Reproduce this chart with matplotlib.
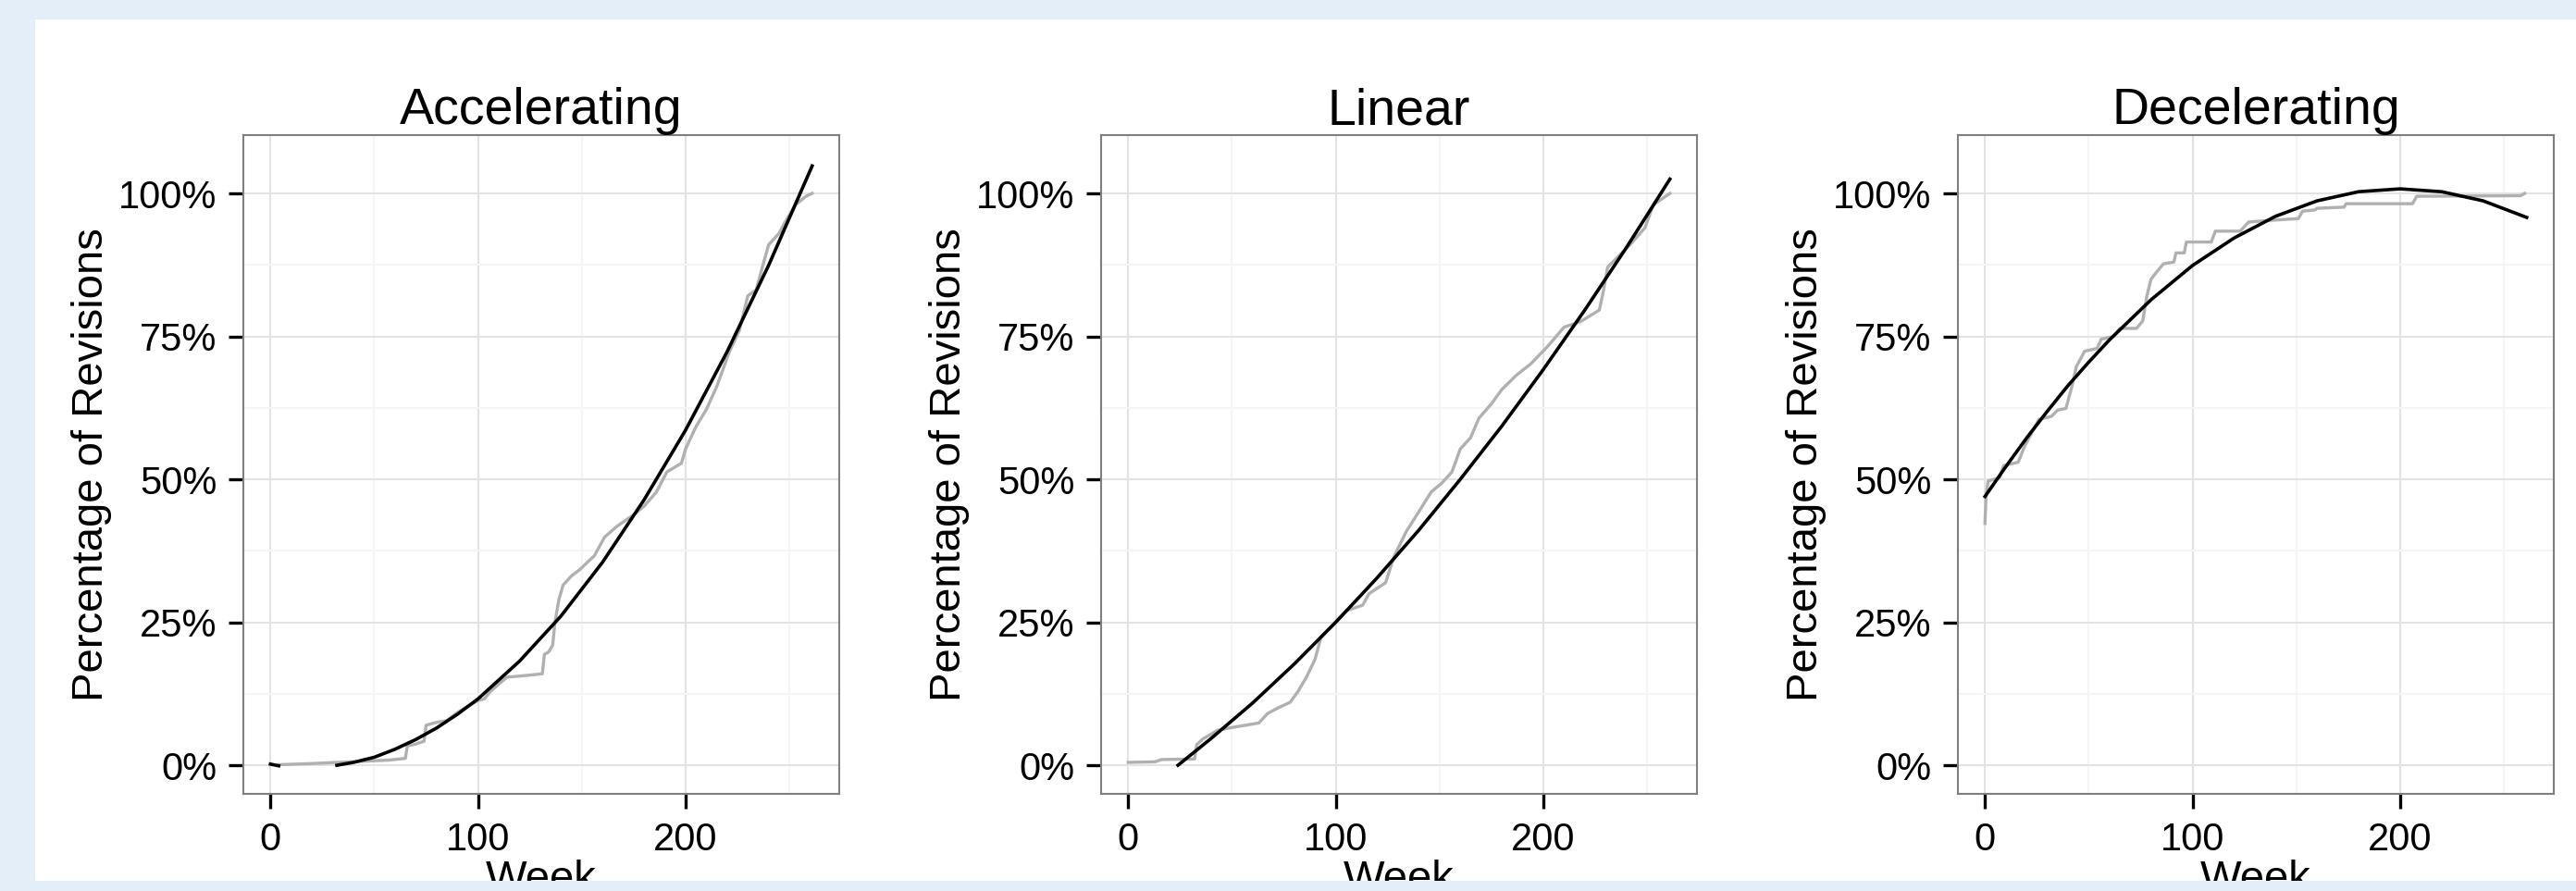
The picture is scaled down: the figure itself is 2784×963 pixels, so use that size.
"""Cumulative revision curves by project shape, with quadratic trend lines."""

import matplotlib

matplotlib.use("Agg")

import matplotlib.pyplot as plt
from matplotlib.patches import Rectangle
from matplotlib.ticker import FixedLocator, PercentFormatter

plt.rcParams["font.family"] = ["Liberation Sans", "DejaVu Sans"]

TITLES = ["Accelerating", "Linear", "Decelerating"]
X_TICKS = [0, 100, 200]
Y_TICKS = [0, 25, 50, 75, 100]

# observed cumulative share of revisions (grey step lines), percent
acc_weeks = [4, 20, 32, 45, 57, 65, 66, 70, 74, 75, 80, 85, 90, 95, 100, 103, 106, 111,
             114, 120, 126, 131, 132, 134, 136, 137, 139, 141, 145, 149, 153, 156, 161,
             167, 175, 180, 186, 191, 198, 200, 205, 210, 215, 221, 226, 230, 234, 240,
             245, 248, 253, 258, 261]
acc_pct = [0.1, 0.3, 0.5, 0.7, 0.9, 1.2, 3.4, 3.7, 4.2, 7.0, 7.5, 7.8, 9.2, 10.3, 11.3,
           11.6, 12.9, 14.5, 15.4, 15.6, 15.8, 16.0, 19.4, 19.8, 21.0, 24.8, 29.0, 31.5,
           33.1, 34.2, 35.6, 36.6, 39.9, 41.8, 43.8, 45.3, 47.8, 51.3, 52.8, 55.3, 59.2,
           62.2, 66.2, 72.2, 76.1, 82.1, 83.1, 91.0, 93.0, 95.0, 98.0, 99.5, 100.0]

lin_weeks = [0, 13, 16, 32, 33, 36, 43, 50, 63, 67, 72, 78, 82, 86, 90, 93, 97, 105, 113,
             116, 124, 128, 134, 140, 146, 151, 156, 160, 165, 169, 175, 180, 187, 194,
             202, 210, 218, 227, 229, 231, 242, 249, 253, 261]
lin_pct = [0.5, 0.6, 1.0, 1.1, 3.6, 4.6, 6.1, 6.6, 7.4, 9.0, 10.0, 11.0, 13.0, 15.5, 18.5,
           22.5, 24.0, 27.0, 28.0, 30.0, 31.9, 36.4, 40.9, 44.3, 47.8, 49.3, 51.3, 55.3,
           57.3, 60.7, 63.2, 65.7, 68.2, 70.2, 73.2, 76.6, 77.6, 79.6, 83.0, 87.1, 91.1,
           94.0, 98.0, 100.0]

dec_weeks = [0, 0.5, 1.5, 7, 9, 16, 19, 22, 26, 32, 35, 39, 42, 44, 48, 54, 56, 62, 65, 73,
             76, 78, 80, 83, 86, 91, 92, 96, 97, 109, 111, 123, 127, 138, 151, 153, 159,
             160, 173, 174, 206, 208, 258, 260]
dec_pct = [42.3, 47.0, 49.7, 50.3, 52.4, 53.0, 55.7, 57.8, 60.5, 61.0, 62.1, 62.4, 66.4,
           69.7, 72.4, 72.9, 74.5, 75.0, 76.4, 76.4, 77.7, 82.1, 85.0, 86.4, 87.7, 88.0,
           89.6, 89.6, 91.5, 91.5, 93.4, 93.4, 95.0, 95.3, 95.6, 96.9, 97.1, 97.4, 97.6,
           98.2, 98.2, 99.5, 99.6, 100.0]

# quadratic trend lines (black)
acc_fit_weeks = [32, 40, 50, 60, 70, 80, 90, 100, 120, 140, 160, 180, 200, 220, 240, 261]
acc_fit_pct = [0.0, 0.5, 1.4, 2.8, 4.5, 6.5, 8.9, 11.6, 18.2, 26.1, 35.5, 46.4, 58.6, 72.3,
               87.4, 104.8]
acc_fit_head_weeks = [0, 4]
acc_fit_head_pct = [0.2, -0.1]

lin_fit_weeks = [24, 40, 60, 80, 100, 120, 140, 160, 180, 200, 220, 240, 261]
lin_fit_pct = [0.0, 4.7, 10.9, 17.7, 25.0, 32.8, 41.1, 50.0, 59.3, 69.2, 79.6, 90.5, 102.5]

dec_fit_weeks = [0, 10, 20, 30, 40, 50, 60, 80, 100, 120, 140, 160, 180, 200, 220, 240,
                 261]
dec_fit_pct = [47.0, 52.2, 57.2, 61.9, 66.4, 70.5, 74.4, 81.4, 87.4, 92.2, 96.0, 98.7,
               100.3, 100.8, 100.3, 98.7, 95.8]

BORDER = "#e4eef8"
GREY_LINE = "#b0b0b0"


def style_panel(ax, title):
    ax.set_xlim(-13.05, 274.05)
    ax.set_ylim(-5.0, 110.2)
    ax.set_facecolor("white")
    for spine in ax.spines.values():
        spine.set_color("#7f7f7f")
        spine.set_linewidth(1.5)
    ax.xaxis.set_major_locator(FixedLocator(X_TICKS))
    ax.xaxis.set_minor_locator(FixedLocator([50, 150, 250]))
    ax.yaxis.set_major_locator(FixedLocator(Y_TICKS))
    ax.yaxis.set_minor_locator(FixedLocator([12.5, 37.5, 62.5, 87.5]))
    ax.yaxis.set_major_formatter(PercentFormatter(xmax=100, decimals=0))
    ax.grid(which="major", color="#e3e3e3", linewidth=1.5)
    ax.grid(which="minor", color="#f5f5f5", linewidth=1.5)
    ax.set_axisbelow(True)
    ax.tick_params(which="major", length=11.5, width=2.4, color="black",
                   labelsize=30, direction="out")
    ax.tick_params(axis="x", pad=10)
    ax.tick_params(axis="y", pad=9)
    ax.tick_params(which="minor", length=0)
    ax.set_title(title, fontsize=40, pad=8)
    ax.set_xlabel("Week", fontsize=34, labelpad=1)
    ax.set_ylabel("Percentage of Revisions", fontsize=34, labelpad=5)


fig = plt.figure(figsize=(27.84, 9.63), dpi=100, facecolor="white")
lefts = [263 / 2784, 1190 / 2784, 2116 / 2784]
width = 644 / 2784
bottom = 1 - 858 / 963
height = 712 / 963
axes = [fig.add_axes([l, bottom, width, height]) for l in lefts]

panels = [
    (acc_weeks, acc_pct, acc_fit_weeks, acc_fit_pct),
    (lin_weeks, lin_pct, lin_fit_weeks, lin_fit_pct),
    (dec_weeks, dec_pct, dec_fit_weeks, dec_fit_pct),
]
for ax, title, (wk, pct, fwk, fpct) in zip(axes, TITLES, panels):
    style_panel(ax, title)
    ax.plot(wk, pct, color=GREY_LINE, linewidth=2.4, solid_joinstyle="round")
    ax.plot(fwk, fpct, color="black", linewidth=2.6, solid_joinstyle="round")
axes[0].plot(acc_fit_head_weeks, acc_fit_head_pct, color="black", linewidth=2.6)

# light blue frame drawn over everything, it clips the x labels at the bottom
W, H = 2784, 963
for x0, y0, w, h in [(0, H - 21, W, 21), (0, 0, 38, H), (0, 0, W, 11)]:
    fig.patches.append(Rectangle((x0 / W, y0 / H), w / W, h / H, transform=fig.transFigure,
                                 facecolor=BORDER, edgecolor="none", zorder=10))

fig.savefig("out.png", dpi=100, facecolor="white")
